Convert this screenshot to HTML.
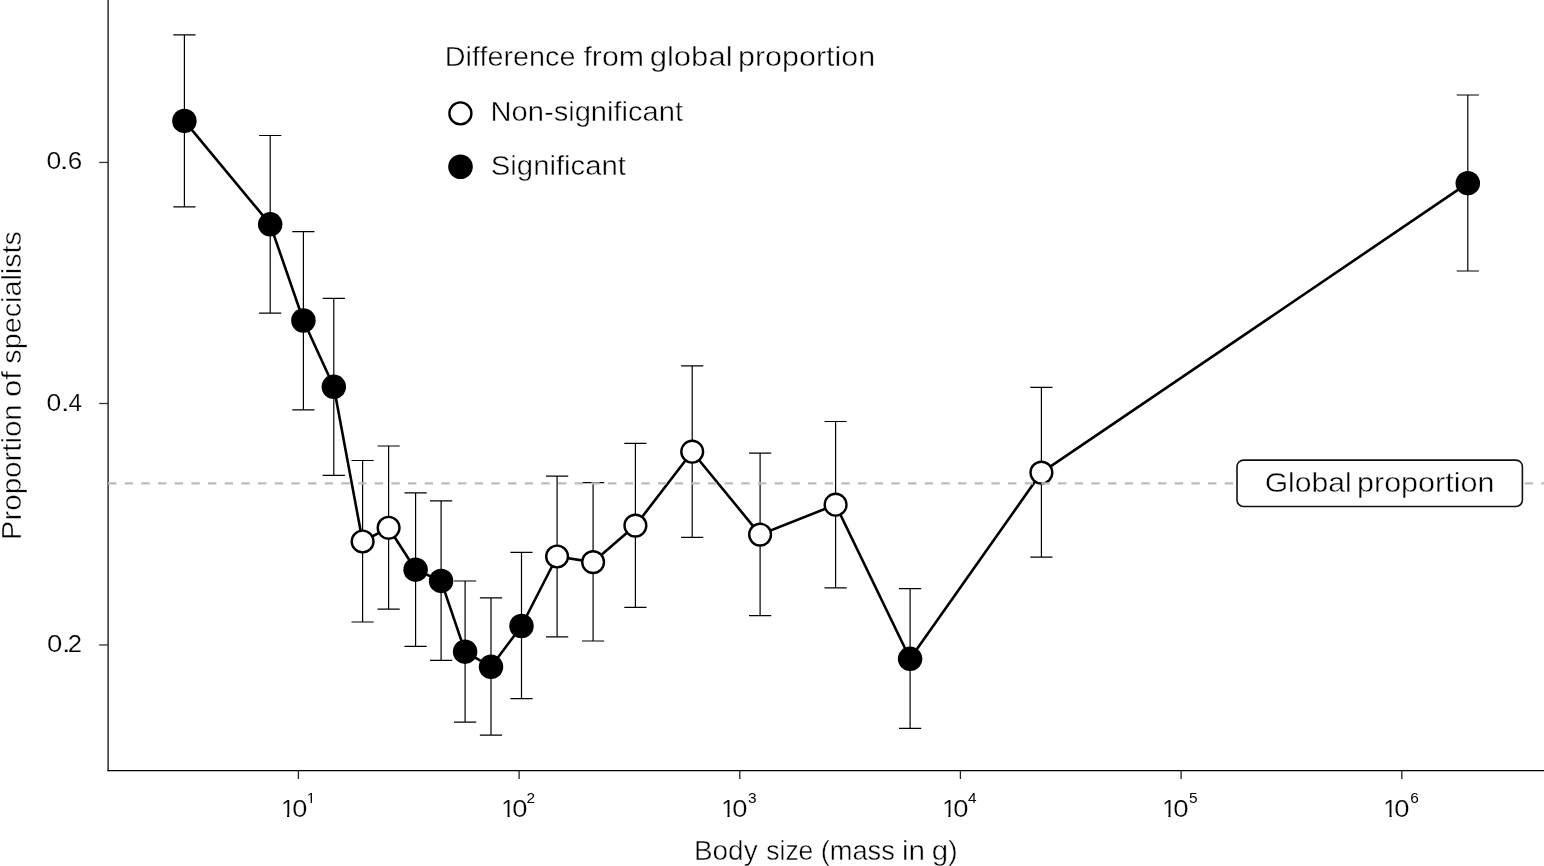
<!DOCTYPE html>
<html><head><meta charset="utf-8"><title>Proportion of specialists by body size</title>
<style>html,body{margin:0;padding:0;background:#fff;}svg{display:block;}text{font-family:"Liberation Sans", Arial, sans-serif;fill:#000;stroke:#fff;stroke-width:0.45px;}text.t{stroke-width:0.2px;}text.s{stroke:none;}</style></head><body>
<svg width="1544" height="866" viewBox="0 0 1544 866">
<rect width="1544" height="866" fill="#fff"/>
<line x1="108.1" y1="0" x2="108.1" y2="771.2" stroke="#000" stroke-width="1.25"/>
<line x1="107.5" y1="770.65" x2="1544" y2="770.65" stroke="#000" stroke-width="1.2"/>
<line x1="99.2" y1="162.45" x2="108.0" y2="162.45" stroke="#333" stroke-width="1.3"/>
<line x1="99.2" y1="403.5" x2="108.0" y2="403.5" stroke="#333" stroke-width="1.3"/>
<line x1="99.2" y1="644.95" x2="108.0" y2="644.95" stroke="#333" stroke-width="1.3"/>
<line x1="298.4" y1="770.5" x2="298.4" y2="779" stroke="#222" stroke-width="1.3"/>
<line x1="519.1" y1="770.5" x2="519.1" y2="779" stroke="#222" stroke-width="1.3"/>
<line x1="739.8" y1="770.5" x2="739.8" y2="779" stroke="#222" stroke-width="1.3"/>
<line x1="960.4" y1="770.5" x2="960.4" y2="779" stroke="#222" stroke-width="1.3"/>
<line x1="1181.1" y1="770.5" x2="1181.1" y2="779" stroke="#222" stroke-width="1.3"/>
<line x1="1401.8" y1="770.5" x2="1401.8" y2="779" stroke="#222" stroke-width="1.3"/>
<path d="M184.4 34.8V206.8M173.3 34.8H195.5M173.3 206.8H195.5M270.2 135.5V313.2M259.1 135.5H281.3M259.1 313.2H281.3M303.4 231.6V409.9M292.3 231.6H314.5M292.3 409.9H314.5M333.8 298.4V475.3M322.7 298.4H344.9M322.7 475.3H344.9M362.6 460.5V622.0M351.5 460.5H373.7M351.5 622.0H373.7M388.6 446.0V609.1M377.5 446.0H399.7M377.5 609.1H399.7M415.6 492.8V646.4M404.5 492.8H426.7M404.5 646.4H426.7M441.1 500.9V660.4M430.0 500.9H452.2M430.0 660.4H452.2M465.1 581.0V722.2M454.0 581.0H476.2M454.0 722.2H476.2M491.0 597.9V735.2M479.9 597.9H502.1M479.9 735.2H502.1M521.5 552.3V698.7M510.4 552.3H532.6M510.4 698.7H532.6M557.1 476.1V636.8M546.0 476.1H568.2M546.0 636.8H568.2M593.1 482.6V641.0M582.0 482.6H604.2M582.0 641.0H604.2M635.4 443.3V607.3M624.3 443.3H646.5M624.3 607.3H646.5M692.2 365.8V537.4M681.1 365.8H703.3M681.1 537.4H703.3M760.1 453.1V615.7M749.0 453.1H771.2M749.0 615.7H771.2M835.6 421.5V587.9M824.5 421.5H846.7M824.5 587.9H846.7M910.1 588.7V728.3M899.0 588.7H921.2M899.0 728.3H921.2M1041.4 387.3V557.2M1030.3 387.3H1052.5M1030.3 557.2H1052.5M1467.8 95.0V271.0M1456.7 95.0H1478.9M1456.7 271.0H1478.9" fill="none" stroke="#000" stroke-width="1.2"/>
<polyline points="184.4,120.9 270.2,224.3 303.4,320.5 333.8,386.8 362.6,541.5 388.6,527.8 415.6,569.7 441.1,580.9 465.1,651.7 491.0,666.8 521.5,626.0 557.1,556.5 593.1,562.1 635.4,525.6 692.2,451.7 760.1,534.6 835.6,504.7 910.1,658.8 1041.4,472.6 1467.8,183.2" fill="none" stroke="#000" stroke-width="2.6" stroke-linejoin="round"/>
<circle cx="184.4" cy="120.9" r="12.25" fill="#000"/>
<circle cx="270.2" cy="224.3" r="12.25" fill="#000"/>
<circle cx="303.4" cy="320.5" r="12.25" fill="#000"/>
<circle cx="333.8" cy="386.8" r="12.25" fill="#000"/>
<circle cx="362.6" cy="541.5" r="10.9" fill="#fff" stroke="#000" stroke-width="2.4"/>
<circle cx="388.6" cy="527.8" r="10.9" fill="#fff" stroke="#000" stroke-width="2.4"/>
<circle cx="415.6" cy="569.7" r="12.25" fill="#000"/>
<circle cx="441.1" cy="580.9" r="12.25" fill="#000"/>
<circle cx="465.1" cy="651.7" r="12.25" fill="#000"/>
<circle cx="491.0" cy="666.8" r="12.25" fill="#000"/>
<circle cx="521.5" cy="626.0" r="12.25" fill="#000"/>
<circle cx="557.1" cy="556.5" r="10.9" fill="#fff" stroke="#000" stroke-width="2.4"/>
<circle cx="593.1" cy="562.1" r="10.9" fill="#fff" stroke="#000" stroke-width="2.4"/>
<circle cx="635.4" cy="525.6" r="10.9" fill="#fff" stroke="#000" stroke-width="2.4"/>
<circle cx="692.2" cy="451.7" r="10.9" fill="#fff" stroke="#000" stroke-width="2.4"/>
<circle cx="760.1" cy="534.6" r="10.9" fill="#fff" stroke="#000" stroke-width="2.4"/>
<circle cx="835.6" cy="504.7" r="10.9" fill="#fff" stroke="#000" stroke-width="2.4"/>
<circle cx="910.1" cy="658.8" r="12.25" fill="#000"/>
<circle cx="1041.4" cy="472.6" r="10.9" fill="#fff" stroke="#000" stroke-width="2.4"/>
<circle cx="1467.8" cy="183.2" r="12.25" fill="#000"/>
<line x1="108.0" y1="483.3" x2="1544" y2="483.3" stroke="#bcbcbc" stroke-width="2.2" stroke-dasharray="8.4 8.267"/>
<rect x="1237.0" y="460.1" width="285.4" height="46.4" rx="6.5" fill="#fff" stroke="#111" stroke-width="1.6"/>
<text transform="translate(444.80 65.7) scale(1.0431 1)" x="0" y="0" font-size="27.6">Difference</text>
<text transform="translate(583.45 65.7) scale(1.0983 1)" x="0" y="0" font-size="27.6">from</text>
<text transform="translate(649.66 65.7) scale(1.1266 1)" x="0" y="0" font-size="27.6">global</text>
<text transform="translate(738.02 65.7) scale(1.1044 1)" x="0" y="0" font-size="27.6">proportion</text>
<text transform="translate(490.57 120.8) scale(1.0400 1)" x="0" y="0" font-size="28.0">Non-significant</text>
<text transform="translate(490.78 175.0) scale(1.0471 1)" x="0" y="0" font-size="28.0">Significant</text>
<text transform="translate(1264.69 491.8) scale(1.0608 1)" x="0" y="0" font-size="28.4">Global</text>
<text transform="translate(1357.02 491.8) scale(1.0749 1)" x="0" y="0" font-size="28.4">proportion</text>
<text transform="translate(693.97 859.7) scale(1.0230 1)" x="0" y="0" font-size="27.3">Body</text>
<text transform="translate(766.31 859.7) scale(0.9689 1)" x="0" y="0" font-size="27.3">size</text>
<text transform="translate(820.66 859.7) scale(0.9991 1)" x="0" y="0" font-size="27.3">(mass</text>
<text transform="translate(901.97 859.7) scale(1.0876 1)" x="0" y="0" font-size="27.3">in</text>
<text transform="translate(931.72 859.7) scale(1.0779 1)" x="0" y="0" font-size="27.3">g)</text>
<g transform="translate(21.0 0) rotate(-90)"><text transform="translate(-540.16 0) scale(1.0675 1)" x="0" y="0" font-size="27.6">Proportion</text><text transform="translate(-396.94 0) scale(1.1211 1)" x="0" y="0" font-size="27.6">of</text><text transform="translate(-363.76 0) scale(1.0427 1)" x="0" y="0" font-size="27.6">specialists</text></g>
<g transform="translate(46.41 169.0) scale(1.120 1)"><text class="t" x="0" y="0" font-size="23.7">0</text></g><g transform="translate(59.55 169.0) scale(1.411 1)"><text class="t" x="0" y="0" font-size="23.7">.</text></g><g transform="translate(67.65 169.0) scale(1.098 1)"><text class="t" x="0" y="0" font-size="23.7">6</text></g>
<g transform="translate(46.41 410.9) scale(1.120 1)"><text class="t" x="0" y="0" font-size="23.7">0</text></g><g transform="translate(60.84 410.9) scale(1.367 1)"><text class="t" x="0" y="0" font-size="23.7">.</text></g><g transform="translate(68.48 410.9) scale(1.021 1)"><text class="t" x="0" y="0" font-size="23.7">4</text></g>
<g transform="translate(47.02 651.9) scale(1.164 1)"><text class="t" x="0" y="0" font-size="23.7">0</text></g><g transform="translate(61.69 651.9) scale(1.389 1)"><text class="t" x="0" y="0" font-size="23.7">.</text></g><g transform="translate(67.87 651.9) scale(1.082 1)"><text class="t" x="0" y="0" font-size="23.7">2</text></g>
<defs><clipPath id="c1m" clipPathUnits="userSpaceOnUse"><polygon points="-4.68,-21.06 18.72,-21.06 18.72,-2.57 7.93,-2.57 7.93,1.17 5.80,1.17 5.80,-2.57 -4.68,-2.57"/></clipPath><clipPath id="c1s" clipPathUnits="userSpaceOnUse"><polygon points="-3.08,-13.86 12.32,-13.86 12.32,-1.69 5.22,-1.69 5.22,0.77 3.82,0.77 3.82,-1.69 -3.08,-1.69"/></clipPath></defs>
<g transform="translate(280.90 816.6) scale(1.05 1)"><text class="t" x="0" y="0" font-size="23.4" clip-path="url(#c1m)">1</text></g><g transform="translate(292.34 816.6) scale(1.161 1)"><text class="t" x="0" y="0" font-size="23.4">0</text></g><text class="s" x="0" y="0" font-size="15.4" clip-path="url(#c1s)" transform="translate(306.73 802.7)">1</text>
<g transform="translate(501.35 816.6) scale(1.05 1)"><text class="t" x="0" y="0" font-size="23.4" clip-path="url(#c1m)">1</text></g><g transform="translate(512.13 816.6) scale(1.170 1)"><text class="t" x="0" y="0" font-size="23.4">0</text></g><text class="s" x="526.50" y="802.7" font-size="15.4">2</text>
<g transform="translate(721.35 816.6) scale(1.05 1)"><text class="t" x="0" y="0" font-size="23.4" clip-path="url(#c1m)">1</text></g><g transform="translate(732.13 816.6) scale(1.170 1)"><text class="t" x="0" y="0" font-size="23.4">0</text></g><text class="s" x="747.90" y="802.7" font-size="15.4">3</text>
<g transform="translate(942.15 816.6) scale(1.05 1)"><text class="t" x="0" y="0" font-size="23.4" clip-path="url(#c1m)">1</text></g><g transform="translate(953.13 816.6) scale(1.170 1)"><text class="t" x="0" y="0" font-size="23.4">0</text></g><text class="s" x="967.96" y="802.7" font-size="15.4">4</text>
<g transform="translate(1162.25 816.6) scale(1.05 1)"><text class="t" x="0" y="0" font-size="23.4" clip-path="url(#c1m)">1</text></g><g transform="translate(1173.22 816.6) scale(1.179 1)"><text class="t" x="0" y="0" font-size="23.4">0</text></g><text class="s" x="1189.00" y="802.7" font-size="15.4">5</text>
<g transform="translate(1383.35 816.6) scale(1.05 1)"><text class="t" x="0" y="0" font-size="23.4" clip-path="url(#c1m)">1</text></g><g transform="translate(1394.13 816.6) scale(1.170 1)"><text class="t" x="0" y="0" font-size="23.4">0</text></g><text class="s" x="1410.20" y="802.7" font-size="15.4">6</text>
<circle cx="460.4" cy="113.4" r="11.0" fill="#fff" stroke="#000" stroke-width="2.4"/>
<circle cx="460.5" cy="166.7" r="12.3" fill="#000"/>
</svg>
</body></html>
